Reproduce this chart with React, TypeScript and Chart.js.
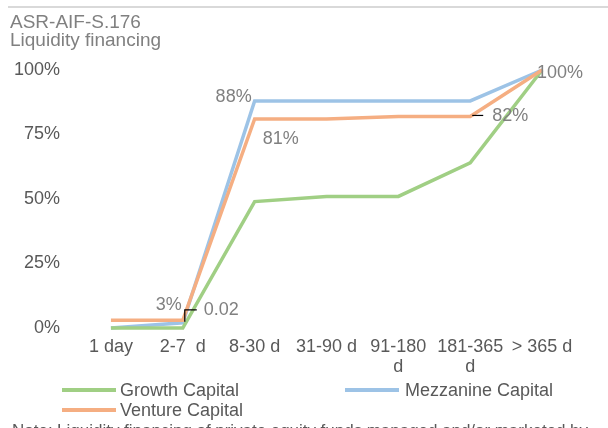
import React, { useEffect, useRef } from "react";
import { Chart, registerables } from "chart.js";

Chart.register(...registerables);

const titleLines = ["ASR-AIF-S.176", "Liquidity financing"];
const noteText = "Note: Liquidity financing of private equity funds managed and/or marketed by";
const categories: (string | string[])[] = ["1 day", "2-7  d", "8-30 d", "31-90 d", ["91-180", "d"], ["181-365", "d"], "> 365 d"];
const seriesNames = ["Growth Capital", "Mezzanine Capital", "Venture Capital"];
const growth = [0, 0, 0.49, 0.51, 0.51, 0.64, 1];
const mezzanine = [0, 0.02, 0.88, 0.88, 0.88, 0.88, 1];
const venture = [0.03, 0.03, 0.81, 0.81, 0.82, 0.82, 1];
const yTicks = [0, 0.25, 0.5, 0.75, 1];

// data labels: dataset index, point index, text
const pointLabels = [
  { ds: 2, i: 1, text: "3%" },
  { ds: 1, i: 1, text: "0.02" },
  { ds: 1, i: 2, text: "88%" },
  { ds: 2, i: 2, text: "81%" },
  { ds: 2, i: 5, text: "82%" },
  { ds: 0, i: 6, text: "100%" },
];
// placement of each label relative to its point
const labelPlacement = [
  { dx: -14, dy: -15, align: "center", leader: null },
  { dx: 21, dy: -13, align: "left", leader: "corner" },
  { dx: -3, dy: -4, align: "right", leader: null },
  { dx: 8, dy: 20, align: "left", leader: null },
  { dx: 22, dy: 0, align: "left", leader: "flat" },
  { dx: 18, dy: 3, align: "center", leader: null },
];

const COLORS = ["#a0cf84", "#9dc3e6", "#f5ae82"];
const FONT = "'Liberation Sans', Arial, sans-serif";

export default function App() {
  const ref = useRef<HTMLCanvasElement | null>(null);
  useEffect(() => {
    const canvas = ref.current!;
    const decor = {
      id: "decor",
      beforeDraw(chart: any) {
        const ctx = chart.ctx;
        ctx.save();
        ctx.fillStyle = "#ffffff";
        ctx.fillRect(0, 0, chart.width, chart.height);
        ctx.strokeStyle = "#d9d9d9";
        ctx.lineWidth = 2;
        ctx.beginPath();
        ctx.moveTo(8, 7);
        ctx.lineTo(chart.width, 7);
        ctx.stroke();
        ctx.fillStyle = "#808080";
        ctx.font = `19px ${FONT}`;
        ctx.textBaseline = "alphabetic";
        ctx.textAlign = "left";
        ctx.fillText(titleLines[0], 10, 28);
        ctx.fillText(titleLines[1], 10, 46);
        ctx.restore();
      },
      afterDatasetsDraw(chart: any) {
        const ctx = chart.ctx;
        ctx.save();
        ctx.font = `18px ${FONT}`;
        ctx.textBaseline = "middle";
        pointLabels.forEach((l, k) => {
          const p = labelPlacement[k];
          const el = chart.getDatasetMeta(l.ds).data[l.i];
          const x = el.x, y = el.y;
          if (p.leader === "corner") {
            ctx.strokeStyle = "#000";
            ctx.lineWidth = 1.2;
            ctx.beginPath();
            ctx.moveTo(x + 2, y - 1);
            ctx.lineTo(x + 2, y - 13);
            ctx.lineTo(x + 14, y - 13);
            ctx.stroke();
          } else if (p.leader === "flat") {
            ctx.strokeStyle = "#000";
            ctx.lineWidth = 1.2;
            ctx.beginPath();
            ctx.moveTo(x + 2, y - 1);
            ctx.lineTo(x + 13, y - 1);
            ctx.stroke();
          }
          ctx.fillStyle = "#808080";
          ctx.textAlign = p.align as CanvasTextAlign;
          ctx.fillText(l.text, x + p.dx, y + p.dy);
        });
        // legend
        const items = [
          { ds: 0, lx: 62, tx: 120, y: 391 },
          { ds: 1, lx: 345, tx: 405, y: 391 },
          { ds: 2, lx: 62, tx: 120, y: 411 },
        ];
        ctx.textAlign = "left";
        items.forEach((it) => {
          const ds = chart.data.datasets[it.ds];
          ctx.strokeStyle = ds.borderColor;
          ctx.lineWidth = 4;
          ctx.beginPath();
          ctx.moveTo(it.lx, it.y - 1);
          ctx.lineTo(it.lx + 54, it.y - 1);
          ctx.stroke();
          ctx.fillStyle = "#595959";
          ctx.fillText(ds.label, it.tx, it.y);
        });
        // note (justified)
        ctx.font = `17px ${FONT}`;
        const words = noteText.split(" ");
        const startX = 12, endX = 588;
        const wsum = words.reduce((s, w) => s + ctx.measureText(w).width, 0);
        const gap = (endX - startX - wsum) / (words.length - 1);
        let cx = startX;
        ctx.textBaseline = "alphabetic";
        ctx.fillStyle = "#595959";
        words.forEach((w) => {
          ctx.fillText(w, cx, 436);
          cx += ctx.measureText(w).width + gap;
        });
        ctx.restore();
      },
    };
    const mk = (i: number, data: number[], order: number) => ({
      label: seriesNames[i],
      data,
      borderColor: COLORS[i],
      backgroundColor: COLORS[i],
      borderWidth: 3.5,
      pointRadius: 0,
      tension: 0,
      clip: false as any,
      order,
    });
    const chart = new Chart(canvas, {
      type: "line",
      data: {
        labels: categories as any,
        datasets: [mk(0, growth, 1), mk(1, mezzanine, 2), mk(2, venture, 0)],
      },
      plugins: [decor],
      options: {
        responsive: false,
        animation: false,
        layout: { padding: { left: 0, right: 30, top: 70, bottom: 0 } },
        plugins: { legend: { display: false }, tooltip: { enabled: false }, title: { display: false } },
        scales: {
          x: {
            offset: true,
            grid: { display: false, drawTicks: false },
            border: { display: false },
            ticks: { color: "#595959", font: { family: FONT, size: 18, lineHeight: 1.12 }, padding: 9, maxRotation: 0, autoSkip: false },
            afterFit: (s: any) => { s.height = 100; },
          },
          y: {
            min: 0,
            max: 1,
            afterBuildTicks: (s: any) => { s.ticks = yTicks.map((v) => ({ value: v })); },
            grid: { display: false, drawTicks: false },
            border: { display: false },
            ticks: {
              color: "#595959",
              font: { family: FONT, size: 18 },
              padding: 15,
              callback: (v: any) => `${Math.round(Number(v) * 100)}%`,
            },
            afterFit: (s: any) => { s.width = 75; },
          },
        },
      },
    });
    return () => chart.destroy();
  }, []);
  return (
    <div style={{ position: "fixed", left: 0, top: 0, width: 608, height: 428 }}>
      <canvas ref={ref} width={608} height={428} style={{ display: "block" }} />
    </div>
  );
}
